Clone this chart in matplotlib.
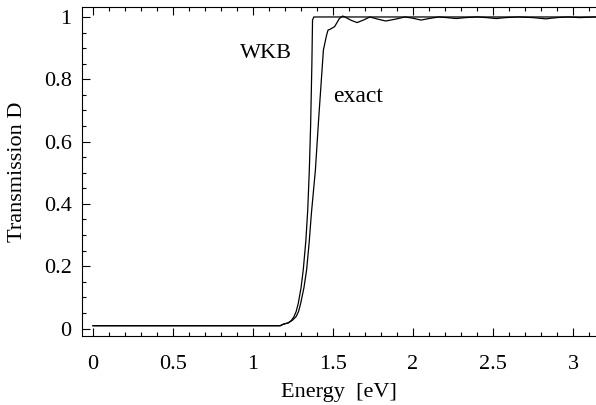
import matplotlib
matplotlib.use("Agg")
import matplotlib.pyplot as plt
from matplotlib.ticker import MultipleLocator, FuncFormatter

# WKB transmission
wkb_x = [0.0, 1.17, 1.19, 1.22, 1.24, 1.256, 1.27, 1.283, 1.30, 1.314, 1.33,
         1.342, 1.352, 1.36, 1.368, 1.372, 1.38, 3.15]
wkb_y = [0.009, 0.009, 0.014, 0.018, 0.026, 0.038, 0.055, 0.081, 0.13, 0.188,
         0.28, 0.38, 0.509, 0.65, 0.85, 0.99, 1.0, 1.0]

# exact transmission
exact_x = [0.0, 1.17, 1.19, 1.22, 1.245, 1.269, 1.285, 1.298, 1.318, 1.335,
           1.35, 1.365, 1.39, 1.41, 1.44, 1.46, 1.469, 1.48, 1.51, 1.54,
           1.56, 1.575, 1.61, 1.65, 1.69, 1.73, 1.78, 1.83, 1.89, 1.95,
           2.0, 2.05, 2.10, 2.16, 2.21, 2.27, 2.33, 2.40, 2.46, 2.52,
           2.58, 2.66, 2.75, 2.83, 2.90, 2.97, 3.04, 3.15]
exact_y = [0.009, 0.009, 0.014, 0.018, 0.026, 0.038, 0.055, 0.081, 0.13, 0.188,
           0.27, 0.37, 0.509, 0.67, 0.894, 0.942, 0.958, 0.96, 0.969, 0.995,
           1.003, 1.0, 0.99, 0.982, 0.99, 1.0, 0.993, 0.987, 0.993, 1.0,
           0.996, 0.99, 0.995, 1.0, 0.998, 0.995, 0.998, 1.0, 0.998, 0.995,
           0.998, 1.0, 0.998, 0.994, 0.998, 1.0, 0.998, 1.0]

x_ticks = [0, 0.5, 1, 1.5, 2, 2.5, 3]
y_ticks = [0, 0.2, 0.4, 0.6, 0.8, 1]

plt.rcParams['font.family'] = ['Liberation Serif', 'DejaVu Serif']
fs = 16

fig = plt.figure(figsize=(5.96, 4.05), dpi=100)
ax = fig.add_axes([82/596, 69/405, 1 - 82/596, (336 - 7)/405])

ax.plot(wkb_x, wkb_y, color='black', lw=0.9)
ax.plot(exact_x, exact_y, color='black', lw=0.9)

ax.set_xlim(-0.069, 3.144)
ax.set_ylim(-0.024, 1.032)

ax.set_xticks(x_ticks)
ax.set_yticks(y_ticks)
fmt = FuncFormatter(lambda v, p: ('%g' % v))
ax.xaxis.set_major_formatter(fmt)
ax.yaxis.set_major_formatter(fmt)
ax.xaxis.set_minor_locator(MultipleLocator(0.1))
ax.yaxis.set_minor_locator(MultipleLocator(0.05))

ax.spines['right'].set_visible(False)
for s in ['left', 'bottom', 'top']:
    ax.spines[s].set_linewidth(0.8)
ax.tick_params(axis='x', which='both', direction='in', top=True, bottom=True,
               labeltop=False, labelsize=fs, pad=13.5, width=0.8)
ax.tick_params(axis='y', which='both', direction='in', left=True, right=False,
               labelsize=fs, pad=7.5, width=0.8)
ax.tick_params(which='major', length=6)
ax.tick_params(which='minor', length=3)

ax.set_xlabel('Energy  [eV]', fontsize=fs)
ax.xaxis.set_label_coords(0.5, -61/329)
ax.xaxis.label.set_va('baseline')
ax.set_ylabel('Transmission D', fontsize=fs)
ax.yaxis.set_label_coords(-64/514, 0.5)
ax.yaxis.label.set_va('center')

ax.text(0.919, 0.868, 'WKB', fontsize=fs, ha='left', va='baseline')
ax.text(1.50, 0.727, 'exact', fontsize=17, ha='left', va='baseline')

fig.savefig('out.png', dpi=100)
